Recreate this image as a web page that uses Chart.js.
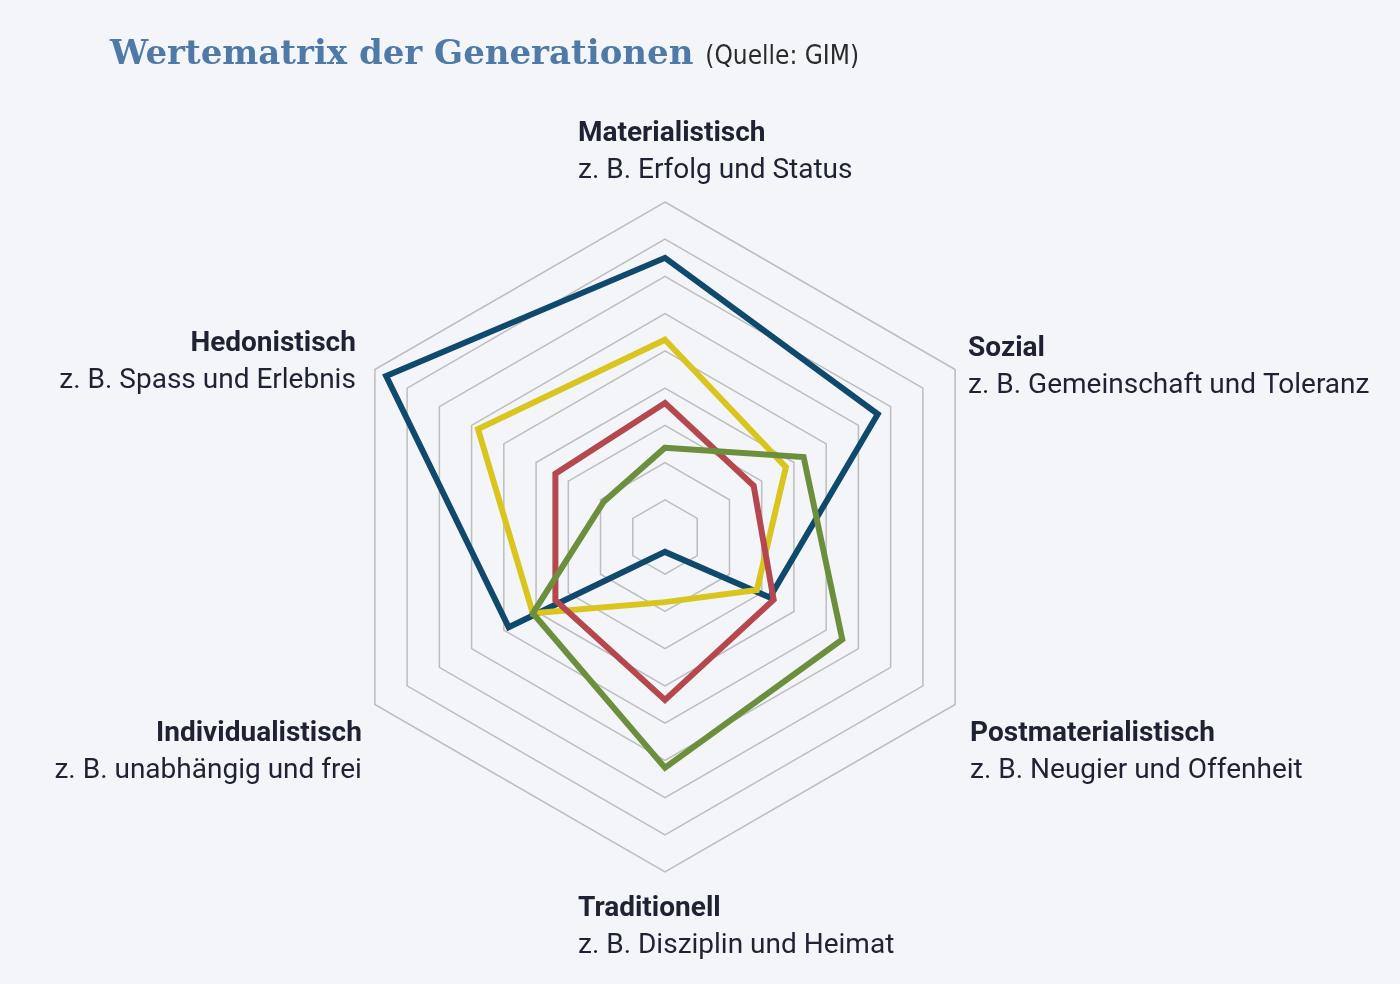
<!DOCTYPE html>
<html lang="de">
<head>
<meta charset="utf-8">
<title>Wertematrix der Generationen</title>
<script src="https://cdn.jsdelivr.net/npm/chart.js@4"></script>
<style>
  body { margin: 0; background: #f3f5f9; }
  #wrap { position: relative; width: 1400px; height: 984px; }
  #title {
    position: absolute; left: 110px; top: 28px; line-height: 48px; white-space: nowrap;
    font-family: "DejaVu Serif", serif; font-weight: bold; font-size: 34px; color: #4f79a6;
  }
  #title span {
    font-family: "DejaVu Sans Condensed", "DejaVu Sans", sans-serif; font-weight: normal;
    font-size: 26px; color: #2b2b2b;
  }
</style>
</head>
<body>
<div id="wrap">
  <div id="title">Wertematrix der Generationen <span>(Quelle: GIM)</span></div>
  <canvas id="radarChart"></canvas>
</div>
<script>
// axis names and their example lines
var axisNames = ['Materialistisch', 'Sozial', 'Postmaterialistisch', 'Traditionell', 'Individualistisch', 'Hedonistisch'];
var axisExamples = ['z. B. Erfolg und Status', 'z. B. Gemeinschaft und Toleranz', 'z. B. Neugier und Offenheit',
  'z. B. Disziplin und Heimat', 'z. B. unabhängig und frei', 'z. B. Spass und Erlebnis'];

// series values (scale 0..9)
var blueValues = [7.5, 6.6, 3.25, 0.4, 4.85, 8.65];
var yellowValues = [5.3, 3.75, 2.85, 1.75, 4.1, 5.8];
var redValues = [3.6, 2.75, 3.37, 4.38, 3.4, 3.4];
var greenValues = [2.4, 4.3, 5.5, 6.2, 4.1, 1.9];

// label placement relative to each outer vertex: dx, dy line 1, dy line 2, align
var labelPlace = [
  [-87, -68, -31, 'left'],
  [13, -21, 16, 'left'],
  [15, 29, 66, 'left'],
  [-87, 37, 74, 'left'],
  [-13, 29, 66, 'right'],
  [-19, -26, 11, 'right']
];

var axisLabels = {
  id: 'axisLabels',
  afterDraw: function (chart) {
    var scale = chart.scales.r;
    var ctx = chart.ctx;
    ctx.save();
    ctx.fillStyle = '#1f2233';
    ctx.textBaseline = 'middle';
    for (var i = 0; i < axisNames.length; i++) {
      var p = scale.getPointPosition(i, scale.drawingArea);
      var pl = labelPlace[i];
      ctx.textAlign = pl[3];
      ctx.font = 'bold 28px Roboto';
      ctx.fillText(axisNames[i], p.x + pl[0], p.y + pl[1]);
      ctx.font = '28px Roboto';
      ctx.fillText(axisExamples[i], p.x + pl[0], p.y + pl[2]);
    }
    ctx.restore();
  }
};

function line(values, color) {
  return {
    data: values,
    borderColor: color,
    backgroundColor: 'rgba(0,0,0,0)',
    borderWidth: 6,
    borderJoinStyle: 'miter',
    pointRadius: 0,
    fill: false
  };
}

var ctx = document.getElementById('radarChart').getContext('2d');
new Chart(ctx, {
  type: 'radar',
  data: {
    labels: axisNames,
    datasets: [
      line(greenValues, '#6b8f3c'),
      line(redValues, '#b5474f'),
      line(yellowValues, '#dac51f'),
      line(blueValues, '#0f4a6c')
    ]
  },
  options: {
    responsive: true,
    maintainAspectRatio: false,
    animation: false,
    layout: { padding: { left: 330, right: 400, top: 202, bottom: 112 } },
    plugins: { legend: { display: false }, tooltip: { enabled: false } },
    scales: {
      r: {
        min: 0,
        max: 9,
        ticks: { display: false, stepSize: 1 },
        grid: { color: '#bdbdbd', lineWidth: 1.5 },
        angleLines: { display: false },
        pointLabels: { display: false }
      }
    }
  },
  plugins: [axisLabels]
});
</script>
</body>
</html>
